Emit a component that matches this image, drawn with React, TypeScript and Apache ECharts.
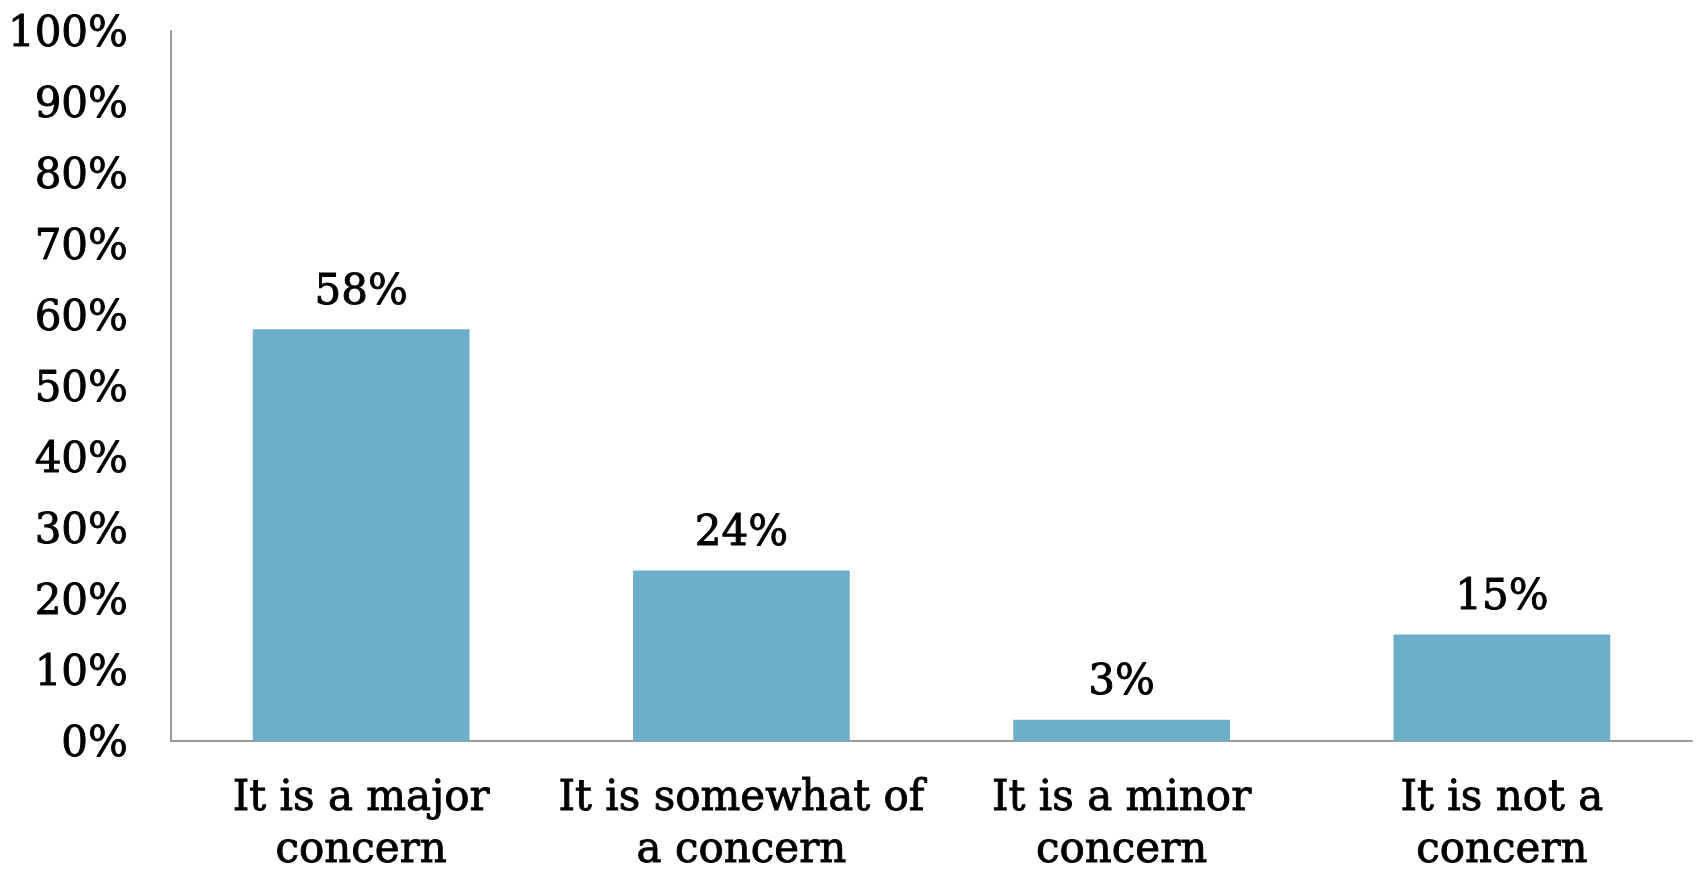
import React, { useEffect, useRef } from "react";
import * as echarts from "echarts";

const categories = [
  "It is a major\nconcern",
  "It is somewhat of\na concern",
  "It is a minor\nconcern",
  "It is not a\nconcern",
];
const values = [58, 24, 3, 15];

const FONT = "DejaVu Serif";
const heavy = { textBorderColor: "#000", textBorderWidth: 0.9 };

export default function App() {
  const ref = useRef<HTMLDivElement>(null);
  useEffect(() => {
    if (!ref.current) return;
    const chart = echarts.init(ref.current, undefined, { renderer: "svg" });
    chart.setOption({
      animation: false,
      grid: {
        left: 171,
        right: 4,
        top: 31,
        bottom: 133,
        containLabel: false,
        outerBoundsMode: "none",
      },
      xAxis: {
        type: "category",
        data: categories,
        axisLine: { show: true, lineStyle: { color: "#999999", width: 2 } },
        axisTick: { show: false },
        axisLabel: {
          interval: 0,
          color: "#000",
          fontFamily: FONT,
          fontSize: 42,
          lineHeight: 52,
          margin: 28,
          ...heavy,
        },
      },
      yAxis: {
        type: "value",
        min: 0,
        max: 100,
        interval: 10,
        axisLine: { show: true, lineStyle: { color: "#999999", width: 2 } },
        axisTick: { show: false },
        splitLine: { show: false },
        axisLabel: {
          color: "#000",
          fontFamily: FONT,
          fontSize: 42,
          margin: 43,
          formatter: "{value}%",
          ...heavy,
        },
      },
      series: [
        {
          type: "bar",
          data: values,
          barWidth: "57%",
          itemStyle: { color: "#6BAFC9" },
          label: {
            show: true,
            position: "top",
            distance: 19,
            color: "#000",
            fontFamily: FONT,
            fontSize: 42,
            formatter: "{c}%",
            ...heavy,
          },
        },
      ],
    });
    return () => chart.dispose();
  }, []);
  return (
    <div
      ref={ref}
      style={{ position: "fixed", left: 0, top: 0, width: 1696, height: 874 }}
    />
  );
}
